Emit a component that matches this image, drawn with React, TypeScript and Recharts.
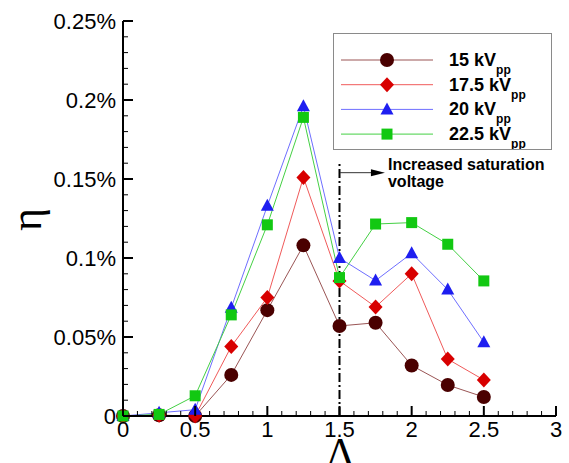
import React from 'react';
import { ComposedChart, Line, XAxis, YAxis, ReferenceLine, Legend } from 'recharts';

// ---------- data ----------
const lambdaValues = [0, 0.25, 0.5, 0.75, 1, 1.25, 1.5, 1.75, 2, 2.25, 2.5];
// eta in percent
const eta15 = [0, 0.0005, 0, 0.026, 0.067, 0.108, 0.057, 0.059, 0.032, 0.0196, 0.012];
const eta175 = [0, 0.0005, 0, 0.044, 0.075, 0.151, 0.0855, 0.069, 0.09, 0.036, 0.0228];
const eta20 = [0, 0.002, 0.004, 0.0685, 0.133, 0.196, 0.1, 0.0857, 0.103, 0.08, 0.0467];
const eta225 = [0, 0.001, 0.0128, 0.064, 0.121, 0.189, 0.0876, 0.1215, 0.1224, 0.1087, 0.0855];

const seriesNames = ['15 kV', '17.5 kV', '20 kV', '22.5 kV'];
const seriesSub = 'pp';

const xTicks = [0, 0.1, 0.2, 0.3, 0.4, 0.5, 0.6, 0.7, 0.8, 0.9, 1, 1.1, 1.2, 1.3, 1.4, 1.5, 1.6, 1.7, 1.8, 1.9, 2, 2.1, 2.2, 2.3, 2.4, 2.5, 2.6, 2.7, 2.8, 2.9, 3];
const xMajorTicks = [0, 0.5, 1, 1.5, 2, 2.5, 3];
const xTickLabels = ['0', '0.5', '1', '1.5', '2', '2.5', '3'];
const yTicks = [0, 0.01, 0.02, 0.03, 0.04, 0.05, 0.06, 0.07, 0.08, 0.09, 0.1, 0.11, 0.12, 0.13, 0.14, 0.15, 0.16, 0.17, 0.18, 0.19, 0.2, 0.21, 0.22, 0.23, 0.24, 0.25];
const yMajorTicks = [0, 0.05, 0.1, 0.15, 0.2, 0.25];
const yTickLabels = ['0', '0.05%', '0.1%', '0.15%', '0.2%', '0.25%'];

const markerLineX = 1.5;
const markerLineTop = 0.16;
const arrowFrom = { x: 1.503, y: 0.154 };
const arrowTo = { x: 1.815, y: 0.154 };
const annotationLines = ['Increased saturation', 'voltage'];

const xTitle = 'Λ';
const yTitle = 'η';

// ---------- styles ----------
const LINE_COLORS = ['#9a5555', '#f05a5a', '#6e6eff', '#44d044'];
const MARK_COLORS = ['#4a0000', '#d80000', '#1e1ef0', '#12c812'];
const SANS = "'Liberation Sans', Arial, sans-serif";
const SERIF = "'Liberation Serif', 'Times New Roman', serif";

const data = lambdaValues.map((x, i) => ({
  x,
  s15: eta15[i],
  s175: eta175[i],
  s20: eta20[i],
  s225: eta225[i],
}));
const keys = ['s15', 's175', 's20', 's225'];

const findMajor = (v: number, majors: number[]) => majors.findIndex((m) => Math.abs(m - v) < 1e-6);

function markerShape(kind: number, cx: number, cy: number, color: string, key?: string) {
  if (kind === 0) return <circle key={key} cx={cx} cy={cy} r={7} fill={color} />;
  if (kind === 1)
    return <polygon key={key} points={`${cx},${cy - 7.5} ${cx + 7},${cy} ${cx},${cy + 7.5} ${cx - 7},${cy}`} fill={color} />;
  if (kind === 2)
    return <polygon key={key} points={`${cx},${cy - 7} ${cx + 6.5},${cy + 5} ${cx - 6.5},${cy + 5}`} fill={color} />;
  return <rect key={key} x={cx - 5.5} y={cy - 5.5} width={11} height={11} fill={color} />;
}

const bottomTick = (p: any) => {
  const { x, y, payload } = p;
  const mi = findMajor(payload.value, xMajorTicks);
  const major = mi >= 0;
  return (
    <g>
      <line x1={x} y1={y} x2={x} y2={y - (major ? 10 : 5)} stroke="#000" strokeWidth={major ? 2 : 1} />
      {major && (
        <text x={x} y={y + 21} textAnchor="middle" fontFamily={SANS} fontSize={22} fill="#000">
          {xTickLabels[mi]}
        </text>
      )}
    </g>
  );
};
const topTick = (p: any) => {
  const { x, y, payload } = p;
  const major = findMajor(payload.value, xMajorTicks) >= 0;
  return <line x1={x} y1={y} x2={x} y2={y + (major ? 10 : 5)} stroke="#000" strokeWidth={major ? 2 : 1} />;
};
const leftTick = (p: any) => {
  const { x, y, payload } = p;
  const mi = findMajor(payload.value, yMajorTicks);
  const major = mi >= 0;
  return (
    <g>
      <line x1={x} y1={y} x2={x + (major ? 10 : 5)} y2={y} stroke="#000" strokeWidth={major ? 2 : 1} />
      {major && (
        <text x={x - 7} y={y + 8} textAnchor="end" fontFamily={SANS} fontSize={22} fill="#000">
          {yTickLabels[mi]}
        </text>
      )}
    </g>
  );
};
const rightTick = (p: any) => {
  const { x, y, payload } = p;
  const major = findMajor(payload.value, yMajorTicks) >= 0;
  return <line x1={x} y1={y} x2={x - (major ? 10 : 5)} y2={y} stroke="#000" strokeWidth={major ? 2 : 1} />;
};

const arrowShape = (p: any) => {
  const { x1, y1, x2, y2 } = p;
  return (
    <g>
      <line x1={x1} y1={y1} x2={x2 - 12} y2={y2} stroke="#333" strokeWidth={1} />
      <polygon points={`${x2},${y2} ${x2 - 14},${y2 - 3.5} ${x2 - 14},${y2 + 3.5}`} fill="#000" />
      <text x={x2 + 3} y={y2 - 3} fontFamily={SANS} fontWeight="bold" fontSize={16} fill="#000">
        {annotationLines[0]}
      </text>
      <text x={x2 + 3} y={y2 + 14} fontFamily={SANS} fontWeight="bold" fontSize={16} fill="#000">
        {annotationLines[1]}
      </text>
    </g>
  );
};

const renderLegend = () => (
  <div style={{ width: 219, height: 117, boxSizing: 'border-box', border: '1px solid #8a8a8a', background: '#fff' }}>
    <svg width={217} height={115} style={{ display: 'block' }}>
      {seriesNames.map((name, i) => {
        const cy = 26 + i * 24.7;
        return (
          <g key={name}>
            <line x1={7} y1={cy} x2={99} y2={cy} stroke={LINE_COLORS[i]} strokeWidth={1} />
            {markerShape(i, 53, cy, MARK_COLORS[i])}
            <text x={115} y={cy + 6} fontFamily={SANS} fontWeight="bold" fontSize={18} fill="#000">
              <tspan>{name}</tspan>
              <tspan dy={8} fontSize={12}>{seriesSub}</tspan>
            </text>
          </g>
        );
      })}
    </svg>
  </div>
);

export default function App() {
  return (
    <div style={{ position: 'absolute', left: 0, top: 0, background: '#fff' }}>
      <ComposedChart width={569} height={463} data={data} margin={{ top: 21, right: 13, bottom: 0, left: 0 }}>
        <XAxis
          xAxisId="b"
          dataKey="x"
          type="number"
          domain={[0, 3]}
          ticks={xTicks}
          interval={0}
          height={47}
          tickSize={0}
          tickMargin={0}
          tickLine={false}
          axisLine={{ stroke: '#000', strokeWidth: 2 }}
          tick={bottomTick}
          label={{
            content: (lp: any) => {
              const vb = lp.viewBox || { x: 123, y: 416, width: 433, height: 47 };
              return (
                <text x={vb.x + vb.width / 2 + 1} y={vb.y + 51} textAnchor="middle" fontFamily={SERIF} fontSize={42} fill="#000">
                  {xTitle}
                </text>
              );
            },
          }}
        />
        <XAxis
          xAxisId="t"
          orientation="top"
          dataKey="x"
          type="number"
          domain={[0, 3]}
          ticks={xTicks}
          interval={0}
          height={0}
          tickSize={0}
          tickMargin={0}
          tickLine={false}
          axisLine={{ stroke: '#000', strokeWidth: 2 }}
          tick={topTick}
        />
        <YAxis
          yAxisId="l"
          type="number"
          domain={[0, 0.25]}
          ticks={yTicks}
          interval={0}
          width={123}
          tickSize={0}
          tickMargin={0}
          tickLine={false}
          axisLine={{ stroke: '#000', strokeWidth: 2 }}
          tick={leftTick}
          label={{
            content: (lp: any) => {
              const vb = lp.viewBox || { x: 0, y: 21, width: 123, height: 395 };
              const cy = vb.y + vb.height / 2 + 1;
              return (
                <text x={41} y={cy} transform={`rotate(-90, 41, ${cy})`} textAnchor="middle" fontFamily={SERIF} fontSize={44} fill="#000">
                  {yTitle}
                </text>
              );
            },
          }}
        />
        <YAxis
          yAxisId="r"
          orientation="right"
          type="number"
          domain={[0, 0.25]}
          ticks={yTicks}
          interval={0}
          width={0}
          tickSize={0}
          tickMargin={0}
          tickLine={false}
          axisLine={{ stroke: '#000', strokeWidth: 2 }}
          tick={rightTick}
        />
        <ReferenceLine
          xAxisId="b"
          yAxisId="l"
          segment={[{ x: markerLineX, y: 0 }, { x: markerLineX, y: markerLineTop }]}
          stroke="#000"
          strokeWidth={2}
          strokeDasharray="9 3 2 3"
        />
        <ReferenceLine
          xAxisId="b"
          yAxisId="l"
          segment={[arrowFrom, arrowTo]}
          shape={arrowShape}
        />
        {keys.map((k, i) => (
          <Line
            key={k}
            xAxisId="b"
            yAxisId="l"
            dataKey={k}
            type="linear"
            stroke={LINE_COLORS[i]}
            strokeWidth={1}
            isAnimationActive={false}
            activeDot={false}
            dot={(p: any) => markerShape(i, p.cx, p.cy, MARK_COLORS[i], `${k}-${p.index}`)}
          />
        ))}
        <Legend
          layout="vertical"
          align="center"
          verticalAlign="middle"
          wrapperStyle={{ left: 333, top: 33, width: 219, height: 117 }}
          content={renderLegend}
        />
      </ComposedChart>
    </div>
  );
}
